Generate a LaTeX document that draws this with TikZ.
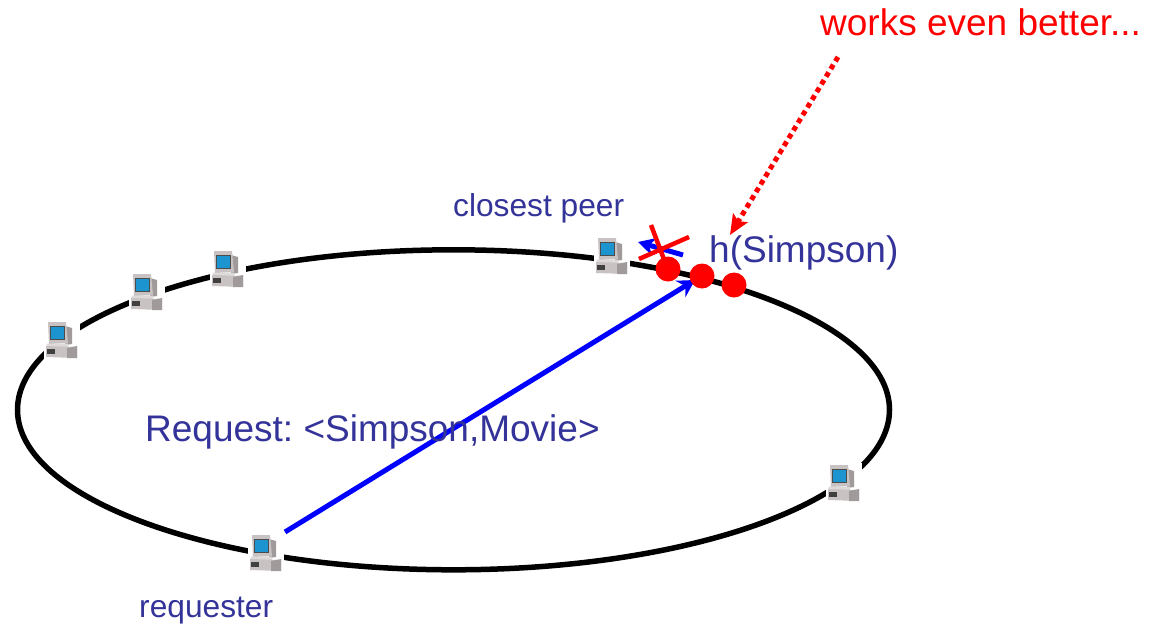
\documentclass[tikz,border=0pt]{standalone}
\usepackage{fontspec}
\setmainfont{Liberation Sans}
\usetikzlibrary{arrows.meta}
\definecolor{txtblue}{HTML}{333399}
\definecolor{scr}{HTML}{1C94D0}
\definecolor{pccase}{HTML}{C8C2C2}
\definecolor{pcdark}{HTML}{A09A9A}
\tikzset{
  pcsym/.pic={
    \fill[white] (-17,-20) rectangle (19,20);
    \fill[pcdark] (4,-14) -- (11,-12) -- (11,4) -- (4,5) -- cycle;
    \fill[pccase] (-13,-18) -- (5,-18) -- (7,3) -- (-12,4) -- cycle;
    \fill[scr] (-11,-14) -- (3,-14) -- (3,-1) -- (-11,-1) -- cycle;
    \draw[black!70,line width=.6] (-11,-14) rectangle (3,-1);
    \fill[pccase!60] (-14,3.5) -- (7,3.5) -- (7,7) -- (-15,7) -- cycle;
    \fill[pccase] (-15,6) -- (16,7) -- (16,18) -- (-15,17) -- cycle;
    \fill[pcdark] (6,8) -- (16,6) -- (16,18) -- (6,18) -- cycle;
    \fill[black!75] (-14,9) rectangle (-6,14);
  },
  lbl/.style={text=txtblue,inner sep=0,anchor=base west},
  biglbl/.style={lbl,font=\fontsize{37}{44}\selectfont\frenchspacing},
  smalllbl/.style={lbl,font=\fontsize{31.7}{38}\selectfont},
  redpt/.style={circle,fill=red,minimum size=25,inner sep=0},
  reqarrow/.style={draw=blue,line width=5,-{Stealth[length=17,width=19]}},
  oldarrow/.style={draw=blue,line width=5,-{Stealth[length=17,width=18]}},
  xline/.style={draw=red,line width=4.5},
  hint/.style={draw=red,line width=5,dash pattern=on 5 off 4,-{Stealth[length=20,width=17,inset=4]}}
}
\begin{document}
\begin{tikzpicture}[x=1pt,y=-1pt]
\useasboundingbox (0,0) rectangle (1149,625);
\fill[white] (0,0) rectangle (1149,625);
% ring
\draw[black,line width=5.5] (453.5,409.8) ellipse [x radius=436,y radius=160];
% peers
\pic at (611,256) {pcsym};
\pic at (227,269) {pcsym};
\pic at (146,292) {pcsym};
\pic at (61,340) {pcsym};
\pic at (843,483) {pcsym};
\pic at (265,553) {pcsym};
% anchor coordinates
\coordinate (reqout) at (285,532);
\coordinate (key) at (695,280);
\coordinate (oldtail) at (683,255);
\coordinate (oldtip) at (638,242);
\coordinate (hintstart) at (838,57);
\coordinate (hintend) at (730,235);
\coordinate (xa) at (651,225);
\coordinate (xb) at (665,262);
\coordinate (xc) at (639,259);
\coordinate (xd) at (689,237);
% arrows
\draw[reqarrow] (reqout) -- (key);
\draw[oldarrow] (oldtail) -- (oldtip);
\draw[xline] (xa) -- (xb);
\draw[xline] (xc) -- (xd);
\node[redpt] (p1) at (668,269) {};
\node[redpt] (p2) at (702,276) {};
\node[redpt] (p3) at (734,285) {};
\draw[hint] (hintstart) -- (hintend);
% labels
\node[biglbl] (lh) at (709,262) {h(Simpson)};
\node[biglbl] (lr) at (145,441) {Request: <Simpson,Movie>};
\node[smalllbl] (lc) at (453,216) {closest peer};
\node[smalllbl] (lq) at (139,617) {requester};
\node[biglbl,text=red] (lw) at (820,35) {works even better...};
\end{tikzpicture}
\end{document}
